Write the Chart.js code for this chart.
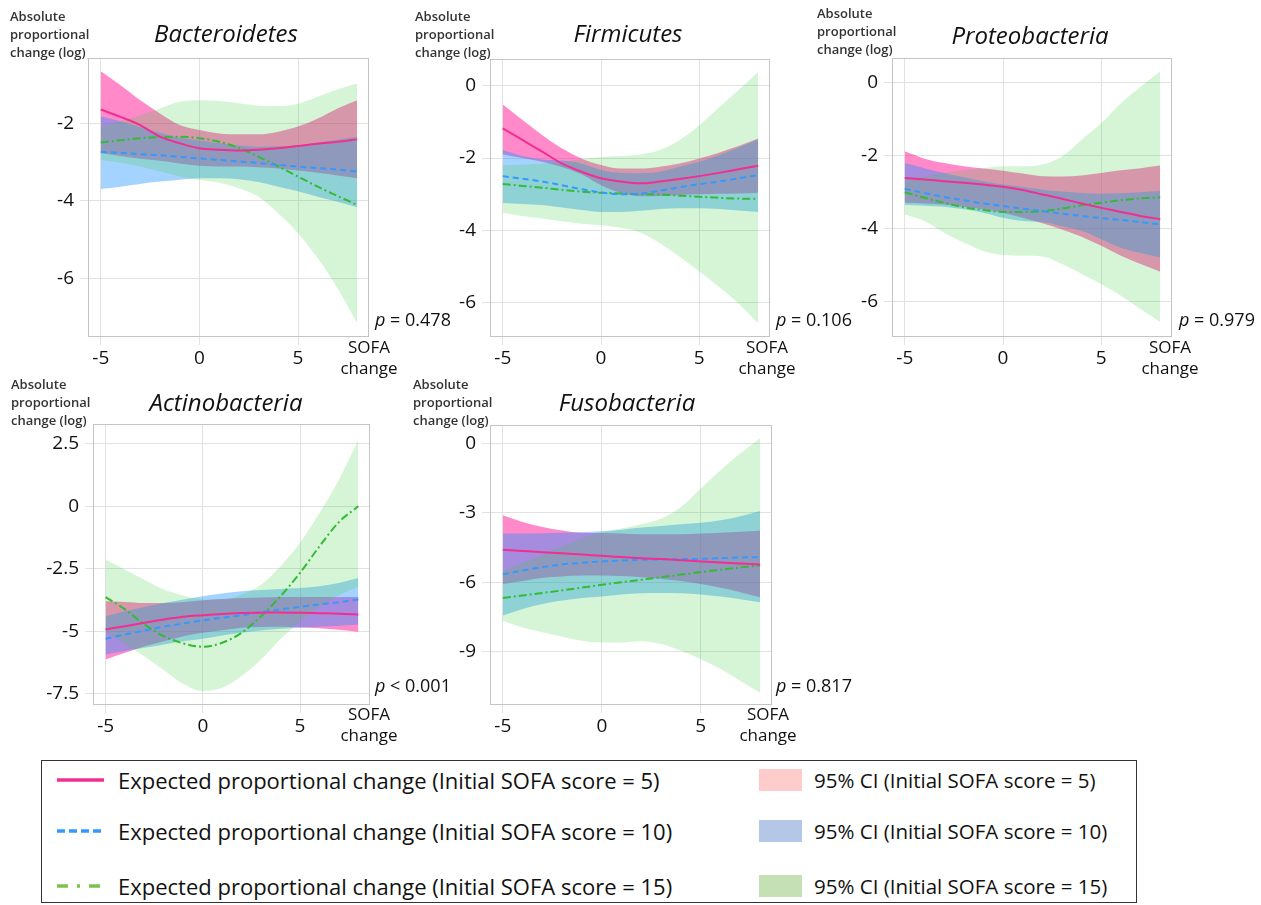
<!DOCTYPE html>
<html>
<head>
<meta charset="utf-8">
<script src="https://cdn.jsdelivr.net/npm/chart.js@4"></script>
<style>
  body { margin: 0; background: #fff; font-family: "Open Sans", sans-serif; color: #111; }
  #page { position: relative; width: 1261px; height: 905px; overflow: hidden; }
  canvas { position: absolute; }
  .t { position: absolute; white-space: nowrap; }
  .ylab { font-size: 13px; font-weight: 600; line-height: 18px; color: #333; }
  .title { font-size: 24px; font-style: italic; transform: translate(-50%, -50%); }
  .pval { font-size: 18px; transform: translateY(-50%); }
  .sofa { font-size: 17px; line-height: 21px; text-align: center; transform: translateX(-50%); }
  #legend { position: absolute; left: 41px; top: 760px; width: 1094px; height: 141px; border: 1.5px solid #333; }
  .lg { position: absolute; font-size: 22px; transform: translateY(-50%); }
  .lg.ci { font-size: 20.5px; }
  .sw { position: absolute; width: 43px; height: 22px; }
</style>
</head>
<body>
<div id="page">
  <div id="legend"></div>
</div>
<script>
/* Expected proportional change vs SOFA change, five phyla. */
const sofaX = [-5, -4, -3, -2, -1, 0, 1, 2, 3, 4, 5, 6, 7, 8];
const xTicks = [-5, 0, 5];

// Bacteroidetes
const bacFit5  = [-1.65, -1.84, -2.05, -2.35, -2.52, -2.65, -2.69, -2.71, -2.69, -2.65, -2.59, -2.53, -2.48, -2.42];
const bacHi5   = [-0.66, -1.02, -1.41, -1.75, -2.05, -2.18, -2.27, -2.29, -2.29, -2.22, -2.09, -1.88, -1.62, -1.41];
const bacLo5   = [-2.78, -2.85, -2.92, -2.97, -3.04, -3.10, -3.12, -3.12, -3.14, -3.17, -3.22, -3.28, -3.35, -3.42];
const bacFit10 = [-2.74, -2.77, -2.80, -2.83, -2.87, -2.91, -2.95, -2.99, -3.03, -3.08, -3.12, -3.16, -3.20, -3.25];
const bacHi10  = [-1.82, -1.95, -2.10, -2.25, -2.38, -2.45, -2.52, -2.58, -2.61, -2.60, -2.57, -2.50, -2.43, -2.35];
const bacLo10  = [-3.70, -3.64, -3.57, -3.51, -3.46, -3.42, -3.42, -3.45, -3.52, -3.64, -3.76, -3.90, -4.03, -4.17];
const bacFit15 = [-2.50, -2.44, -2.39, -2.36, -2.35, -2.39, -2.48, -2.64, -2.87, -3.12, -3.38, -3.64, -3.88, -4.11];
const bacHi15  = [-2.10, -1.95, -1.80, -1.62, -1.45, -1.41, -1.43, -1.49, -1.55, -1.56, -1.50, -1.32, -1.13, -0.98];
const bacLo15  = [-2.95, -3.02, -3.12, -3.25, -3.38, -3.47, -3.54, -3.68, -3.90, -4.33, -4.84, -5.49, -6.26, -7.16];

// Firmicutes
const firFit5  = [-1.18, -1.50, -1.82, -2.15, -2.38, -2.56, -2.65, -2.70, -2.65, -2.58, -2.50, -2.41, -2.31, -2.21];
const firHi5   = [-0.52, -0.95, -1.36, -1.73, -2.01, -2.19, -2.29, -2.29, -2.24, -2.15, -2.01, -1.85, -1.67, -1.46];
const firLo5   = [-1.90, -2.00, -2.10, -2.25, -2.45, -2.75, -2.96, -3.06, -3.05, -3.02, -3.00, -2.99, -2.98, -2.96];
const firFit10 = [-2.50, -2.57, -2.65, -2.75, -2.86, -2.95, -3.00, -2.98, -2.90, -2.81, -2.72, -2.65, -2.56, -2.47];
const firHi10  = [-1.78, -1.94, -2.04, -2.07, -2.15, -2.33, -2.41, -2.42, -2.38, -2.24, -2.10, -1.92, -1.71, -1.48];
const firLo10  = [-3.24, -3.27, -3.30, -3.37, -3.44, -3.49, -3.49, -3.46, -3.41, -3.39, -3.39, -3.41, -3.45, -3.49];
const firFit15 = [-2.72, -2.77, -2.82, -2.88, -2.93, -2.96, -2.98, -3.00, -3.01, -3.04, -3.07, -3.10, -3.12, -3.13];
const firHi15  = [-2.20, -2.18, -2.15, -2.10, -2.03, -1.97, -1.94, -1.90, -1.78, -1.50, -1.09, -0.60, -0.12, 0.39];
const firLo15  = [-3.51, -3.60, -3.67, -3.75, -3.82, -3.86, -3.93, -4.06, -4.36, -4.73, -5.14, -5.56, -6.02, -6.57];

// Proteobacteria
const proFit5  = [-2.62, -2.66, -2.71, -2.75, -2.80, -2.86, -2.95, -3.07, -3.19, -3.32, -3.44, -3.55, -3.66, -3.75];
const proHi5   = [-1.89, -2.09, -2.21, -2.30, -2.36, -2.42, -2.50, -2.57, -2.58, -2.55, -2.48, -2.41, -2.35, -2.28];
const proLo5   = [-3.30, -3.32, -3.35, -3.41, -3.48, -3.57, -3.71, -3.86, -4.03, -4.23, -4.48, -4.75, -4.98, -5.19];
const proFit10 = [-2.92, -3.03, -3.14, -3.23, -3.32, -3.39, -3.46, -3.53, -3.60, -3.66, -3.72, -3.77, -3.83, -3.89];
const proHi10  = [-2.21, -2.35, -2.48, -2.60, -2.71, -2.80, -2.87, -2.94, -2.99, -3.03, -3.05, -3.04, -3.01, -2.98];
const proLo10  = [-3.36, -3.38, -3.41, -3.48, -3.57, -3.71, -3.80, -3.83, -3.94, -4.07, -4.30, -4.53, -4.68, -4.80];
const proFit15 = [-3.01, -3.16, -3.30, -3.42, -3.50, -3.55, -3.55, -3.53, -3.46, -3.37, -3.30, -3.23, -3.18, -3.15];
const proHi15  = [-2.66, -2.57, -2.48, -2.41, -2.35, -2.30, -2.30, -2.25, -2.03, -1.57, -1.12, -0.57, -0.12, 0.31];
const proLo15  = [-3.62, -3.80, -4.12, -4.39, -4.62, -4.73, -4.75, -4.77, -4.98, -5.25, -5.53, -5.85, -6.21, -6.57];

// Actinobacteria
const actFit5  = [-4.92, -4.79, -4.65, -4.52, -4.41, -4.35, -4.30, -4.26, -4.25, -4.24, -4.25, -4.27, -4.29, -4.32];
const actHi5   = [-3.79, -3.82, -3.86, -3.86, -3.82, -3.75, -3.70, -3.66, -3.64, -3.62, -3.62, -3.62, -3.62, -3.62];
const actLo5   = [-6.12, -5.85, -5.59, -5.39, -5.19, -5.05, -4.95, -4.85, -4.82, -4.81, -4.83, -4.87, -4.93, -5.01];
const actFit10 = [-5.29, -5.12, -4.96, -4.81, -4.68, -4.56, -4.45, -4.35, -4.23, -4.12, -4.02, -3.92, -3.83, -3.72];
const actHi10  = [-4.39, -4.19, -4.02, -3.86, -3.72, -3.59, -3.48, -3.39, -3.34, -3.30, -3.26, -3.19, -3.06, -2.86];
const actLo10  = [-5.92, -5.78, -5.65, -5.52, -5.39, -5.29, -5.16, -5.05, -4.96, -4.89, -4.85, -4.81, -4.77, -4.72];
const actFit15 = [-3.63, -4.12, -4.72, -5.19, -5.48, -5.61, -5.45, -5.05, -4.39, -3.59, -2.66, -1.60, -0.63, 0.00];
const actHi15  = [-2.13, -2.53, -2.93, -3.32, -3.56, -3.72, -3.72, -3.52, -3.12, -2.39, -1.46, -0.27, 1.06, 2.66];
const actLo15  = [-5.00, -5.50, -6.00, -6.55, -7.10, -7.38, -7.25, -6.78, -6.12, -5.30, -4.60, -4.00, -3.55, -3.20];

// Fusobacteria
const fusFit5  = [-4.60, -4.65, -4.70, -4.75, -4.80, -4.86, -4.91, -4.96, -5.00, -5.05, -5.10, -5.15, -5.19, -5.23];
const fusHi5   = [-3.11, -3.40, -3.61, -3.76, -3.86, -3.87, -3.90, -3.93, -3.93, -3.93, -3.90, -3.86, -3.82, -3.76];
const fusLo5   = [-6.07, -5.95, -5.81, -5.75, -5.71, -5.71, -5.73, -5.78, -5.86, -5.95, -6.08, -6.24, -6.43, -6.65];
const fusFit10 = [-5.66, -5.49, -5.35, -5.23, -5.16, -5.10, -5.06, -5.03, -5.01, -5.00, -4.99, -4.96, -4.93, -4.91];
const fusHi10  = [-3.90, -3.89, -3.88, -3.86, -3.84, -3.80, -3.73, -3.64, -3.57, -3.50, -3.43, -3.32, -3.15, -2.92];
const fusLo10  = [-7.44, -7.15, -6.94, -6.79, -6.68, -6.62, -6.53, -6.47, -6.46, -6.47, -6.53, -6.62, -6.73, -6.86];
const fusFit15 = [-6.68, -6.57, -6.46, -6.35, -6.23, -6.11, -6.00, -5.89, -5.78, -5.67, -5.56, -5.46, -5.36, -5.27];
const fusHi15  = [-5.50, -5.15, -4.80, -4.45, -4.10, -3.83, -3.68, -3.50, -3.25, -2.75, -1.95, -1.16, -0.43, 0.22];
const fusLo15  = [-7.66, -7.95, -8.16, -8.35, -8.53, -8.60, -8.60, -8.55, -8.67, -8.96, -9.32, -9.75, -10.26, -10.77];

const bacTicks = [-6, -4, -2];
const firTicks = [-6, -4, -2, 0];
const proTicks = [-6, -4, -2, 0];
const actTicks = [-7.5, -5, -2.5, 0, 2.5];
const fusTicks = [-9, -6, -3, 0];

const lineColors = ['#f22f90', '#3399ff', '#33bb33'];
const lineDash = [[], [6, 4], [8, 3, 2, 3]];
const bandColors = ['rgba(255,20,147,0.5)', 'rgba(30,144,255,0.4)', 'rgba(50,205,50,0.2)'];
const legendLabels = [
    'Expected proportional change (Initial SOFA score = 5)',
    'Expected proportional change (Initial SOFA score = 10)',
    'Expected proportional change (Initial SOFA score = 15)',
];
const ciLabels = [
    '95% CI (Initial SOFA score = 5)',
    '95% CI (Initial SOFA score = 10)',
    '95% CI (Initial SOFA score = 15)',
];
const ciSwatch = ['#ffcccc', '#b4c7e7', '#c5e0b4'];

const panels = [
    { title: 'Bacteroidetes', p: '= 0.478', frame: [88, 58, 369, 337], y: [-7.52, -0.32], ticks: bacTicks,
      fit: [bacFit5, bacFit10, bacFit15], hi: [bacHi5, bacHi10, bacHi15], lo: [bacLo5, bacLo10, bacLo15],
      ylab: [10, 7], titleAt: [226, 32], pAt: [375, 319], sofaAt: [369, 336] },
    { title: 'Firmicutes', p: '= 0.106', frame: [490, 59, 770, 337], y: [-6.95, 0.74], ticks: firTicks,
      fit: [firFit5, firFit10, firFit15], hi: [firHi5, firHi10, firHi15], lo: [firLo5, firLo10, firLo15],
      ylab: [415, 7], titleAt: [628, 32], pAt: [776, 319], sofaAt: [767, 336] },
    { title: 'Proteobacteria', p: '= 0.979', frame: [892, 58, 1172, 337], y: [-6.98, 0.67], ticks: proTicks,
      fit: [proFit5, proFit10, proFit15], hi: [proHi5, proHi10, proHi15], lo: [proLo5, proLo10, proLo15],
      ylab: [817, 4], titleAt: [1030, 34], pAt: [1179, 319], sofaAt: [1170, 336] },
    { title: 'Actinobacteria', p: '< 0.001', frame: [93, 424, 370, 705], y: [-7.94, 3.29], ticks: actTicks,
      fit: [actFit5, actFit10, actFit15], hi: [actHi5, actHi10, actHi15], lo: [actLo5, actLo10, actLo15],
      ylab: [11, 375], titleAt: [226, 401], pAt: [375, 685], sofaAt: [369, 703] },
    { title: 'Fusobacteria', p: '= 0.817', frame: [490, 425, 772, 705], y: [-11.3, 0.79], ticks: fusTicks,
      fit: [fusFit5, fusFit10, fusFit15], hi: [fusHi5, fusHi10, fusHi15], lo: [fusLo5, fusLo10, fusLo15],
      ylab: [413, 375], titleAt: [627, 401], pAt: [776, 685], sofaAt: [768, 703] },
];

const page = document.getElementById('page');
const tickFont = { family: '"Open Sans", sans-serif', size: 19 };
const gridColor = '#e2e2e2';
const AXW = 70, AXH = 40, PADT = 10, PADR = 10;

function pts(ys) {
    return ys.map((y, i) => ({ x: sofaX[i], y: y }));
}

function addText(cls, x, y, html) {
    const d = document.createElement('div');
    d.className = 't ' + cls;
    d.style.left = x + 'px';
    d.style.top = y + 'px';
    d.innerHTML = html;
    page.appendChild(d);
    return d;
}

const framePlugin = {
    id: 'frame',
    afterDraw(chart) {
        const a = chart.chartArea, c = chart.ctx;
        c.save();
        c.strokeStyle = '#c4c4c4';
        c.lineWidth = 1;
        c.strokeRect(Math.round(a.left) + 0.5, Math.round(a.top) + 0.5,
            Math.round(a.right - a.left) - 1, Math.round(a.bottom - a.top) - 1);
        c.restore();
    },
};

panels.forEach(p => {
    const [l, t, r, b] = p.frame;
    const cv = document.createElement('canvas');
    cv.width = (r - l) + AXW + PADR;
    cv.height = (b - t) + AXH + PADT;
    cv.style.left = (l - AXW) + 'px';
    cv.style.top = (t - PADT) + 'px';
    page.appendChild(cv);

    const datasets = [];
    for (let i = 0; i < 3; i++) {
        datasets.push({ data: pts(p.hi[i]), fill: '+1', backgroundColor: bandColors[i],
            borderColor: 'transparent', borderWidth: 0, pointRadius: 0, order: 3 - i,
            cubicInterpolationMode: 'monotone' });
        datasets.push({ data: pts(p.lo[i]), fill: false, borderColor: 'transparent',
            borderWidth: 0, pointRadius: 0, order: 3 - i, cubicInterpolationMode: 'monotone' });
    }
    for (let i = 0; i < 3; i++) {
        datasets.push({ data: pts(p.fit[i]), fill: false, borderColor: lineColors[i], borderDash: lineDash[i],
            borderWidth: 2, pointRadius: 0, order: 0, cubicInterpolationMode: 'monotone' });
    }

    new Chart(cv, {
        type: 'line',
        data: { datasets: datasets },
        options: {
            responsive: false,
            animation: false,
            events: [],
            layout: { padding: { top: PADT, right: PADR, left: 0, bottom: 0 } },
            plugins: { legend: { display: false }, tooltip: { enabled: false } },
            scales: {
                x: {
                    type: 'linear', min: -5.65, max: 8.6,
                    afterBuildTicks: s => { s.ticks = xTicks.map(v => ({ value: v })); },
                    afterFit: s => { s.height = AXH; s.paddingLeft = 0; s.paddingRight = 0; },
                    grid: { color: gridColor, tickColor: gridColor, tickLength: 8 },
                    border: { display: false },
                    ticks: { font: tickFont, color: '#111', padding: 2, maxRotation: 0, callback: v => String(v) },
                },
                y: {
                    type: 'linear', min: p.y[0], max: p.y[1],
                    afterBuildTicks: s => { s.ticks = p.ticks.map(v => ({ value: v })); },
                    afterFit: s => { s.width = AXW; s.paddingTop = 0; s.paddingBottom = 0; },
                    grid: { color: gridColor, tickColor: gridColor, tickLength: 8 },
                    border: { display: false },
                    ticks: { font: tickFont, color: '#111', padding: 6, callback: v => String(v) },
                },
            },
        },
        plugins: [framePlugin],
    });

    addText('ylab', p.ylab[0], p.ylab[1], 'Absolute<br>proportional<br>change (log)');
    addText('title', p.titleAt[0], p.titleAt[1], p.title);
    addText('pval', p.pAt[0], p.pAt[1], '<i>p</i> ' + p.p);
    addText('sofa', p.sofaAt[0], p.sofaAt[1], 'SOFA<br>change');
});

// legend box
const rowsY = [779, 830, 885];
const dashSvg = ['', 'stroke-dasharray="8 4"', 'stroke-dasharray="11 9 3 9"'];
const lg = document.getElementById('legend');
rowsY.forEach((y, i) => {
    const ly = y - 760;
    const s = document.createElementNS('http://www.w3.org/2000/svg', 'svg');
    s.setAttribute('width', '50');
    s.setAttribute('height', '8');
    s.style.position = 'absolute';
    s.style.left = (57 - 42) + 'px';
    s.style.top = (ly - 4) + 'px';
    s.innerHTML = '<line x1="0" y1="4" x2="47" y2="4" stroke="' + (i === 2 ? '#7dc24b' : lineColors[i]) +
        '" stroke-width="3.5" ' + dashSvg[i] + '/>';
    lg.appendChild(s);

    const t1 = document.createElement('div');
    t1.className = 'lg';
    t1.style.left = (118 - 42) + 'px';
    t1.style.top = ly + 'px';
    t1.textContent = legendLabels[i];
    lg.appendChild(t1);

    const sw = document.createElement('div');
    sw.className = 'sw';
    sw.style.left = (759 - 42) + 'px';
    sw.style.top = (ly - 11) + 'px';
    sw.style.background = ciSwatch[i];
    lg.appendChild(sw);

    const t2 = document.createElement('div');
    t2.className = 'lg ci';
    t2.style.left = (814 - 42) + 'px';
    t2.style.top = ly + 'px';
    t2.textContent = ciLabels[i];
    lg.appendChild(t2);
});
</script>
</body>
</html>
